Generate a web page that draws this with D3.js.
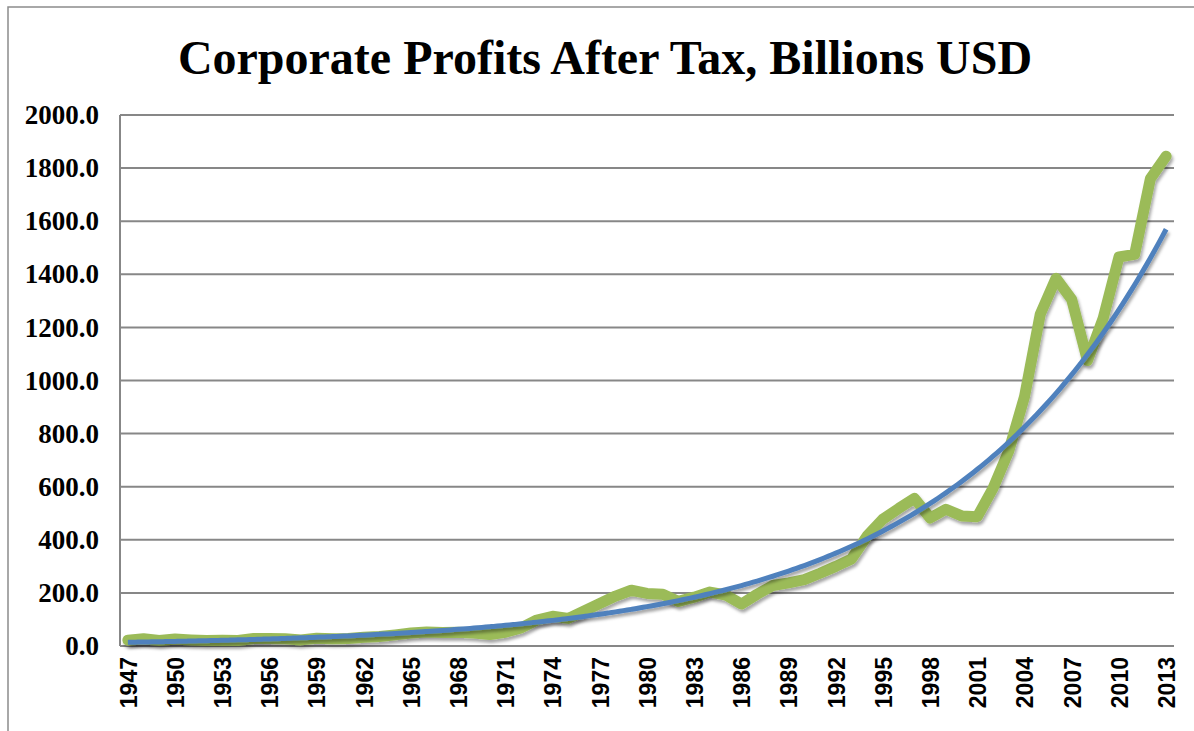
<!DOCTYPE html>
<html>
<head>
<meta charset="utf-8">
<script src="https://cdn.jsdelivr.net/npm/d3@7"></script>
<style>
  html, body { margin: 0; padding: 0; background: #fff; }
  svg { display: block; }
</style>
</head>
<body>
<svg id="chart" width="1194" height="731"></svg>
<script>
// ---- data ----
const title = "Corporate Profits After Tax, Billions USD";
const years = d3.range(1947, 2014);
const profits = [
  22, 27, 21, 26, 23, 21, 22, 21, 28, 28,      // 1947-1956
  27, 23, 29, 27, 28, 33, 36, 42, 49, 53,      // 1957-1966
  51, 52, 49, 43, 52, 68, 98, 112, 104, 132,   // 1967-1976
  160, 188, 210, 198, 195, 168, 184, 203, 192, 158, // 1977-1986
  195, 228, 238, 250, 274, 300, 328, 415, 478, 518, // 1987-1996
  556, 482, 515, 490, 487, 595, 735, 940, 1250, 1385, // 1997-2006
  1305, 1075, 1235, 1465, 1475, 1760, 1845      // 2007-2013
];
const xTickLabels = d3.range(1947, 2014, 3);
const yTicks = [0, 200, 400, 600, 800, 1000, 1200, 1400, 1600, 1800, 2000];

// ---- exponential trendline (least squares on ln(y), like a spreadsheet trendline) ----
const xs = profits.map((_, i) => i + 1);
const ls = profits.map(v => Math.log(v));
const n = xs.length;
const mx = d3.mean(xs), ml = d3.mean(ls);
const bCoef = d3.sum(xs.map((x, i) => (x - mx) * (ls[i] - ml))) / d3.sum(xs.map(x => (x - mx) * (x - mx)));
const aCoef = Math.exp(ml - bCoef * mx);
const trend = d3.range(1, n + 0.001, 0.25).map(t => ({t, v: aCoef * Math.exp(bCoef * t)}));

// ---- layout ----
const svg = d3.select("#chart");
const pLeft = 120, pRight = 1174, pTop = 115, pBottom = 646;

const x = d3.scalePoint().domain(years).range([pLeft, pRight]).padding(0.5);
const y = d3.scaleLinear().domain([0, 2000]).range([pBottom, pTop]);
const step = x.step();
const xt = t => x(years[0]) + (t - 1) * step;

// defs: drop shadow
const defs = svg.append("defs");
const f = defs.append("filter").attr("id", "shadow")
  .attr("x", "-5%").attr("y", "-5%").attr("width", "110%").attr("height", "115%");
f.append("feDropShadow").attr("dx", 1.5).attr("dy", 3).attr("stdDeviation", 1.8)
  .attr("flood-color", "#000").attr("flood-opacity", 0.35);

// background + outer border
svg.append("rect").attr("width", 1194).attr("height", 731).attr("fill", "#fff");
svg.append("rect").attr("x", 8).attr("y", 7).attr("width", 1200).attr("height", 740)
  .attr("fill", "none").attr("stroke", "#8c8c8c").attr("stroke-width", 1.5);

// title
svg.append("text").attr("x", 605).attr("y", 74).attr("text-anchor", "middle")
  .attr("font-family", "Liberation Serif, Times New Roman, serif")
  .attr("font-weight", "bold").attr("font-size", 48).attr("fill", "#000")
  .text(title);

// gridlines
svg.append("g").selectAll("line").data(yTicks.filter(d => d > 0)).join("line")
  .attr("x1", pLeft).attr("x2", pRight)
  .attr("y1", d => y(d)).attr("y2", d => y(d))
  .attr("stroke", "#878787").attr("stroke-width", 2);

// axes lines
svg.append("line").attr("x1", pLeft).attr("x2", pLeft).attr("y1", pTop).attr("y2", pBottom)
  .attr("stroke", "#878787").attr("stroke-width", 2);
svg.append("line").attr("x1", pLeft).attr("x2", pRight).attr("y1", pBottom).attr("y2", pBottom)
  .attr("stroke", "#878787").attr("stroke-width", 2);

// y axis labels
const yAxis = d3.axisLeft(y).tickValues(yTicks).tickFormat(d3.format(".1f")).tickSize(0).tickPadding(21);
const gy = svg.append("g").attr("transform", `translate(${pLeft},0)`).call(yAxis);
gy.select(".domain").remove();
gy.selectAll("text")
  .attr("font-family", "Liberation Serif, Times New Roman, serif")
  .attr("font-weight", "bold").attr("font-size", 27).attr("fill", "#000");

// x axis labels
const xAxis = d3.axisBottom(x).tickValues(xTickLabels).tickSize(0).tickPadding(0);
const gx = svg.append("g").attr("transform", `translate(0,${pBottom})`).call(xAxis);
gx.select(".domain").remove();
gx.selectAll("text")
  .attr("font-family", "Liberation Sans, Arial, sans-serif")
  .attr("font-weight", "bold").attr("font-size", 23).attr("fill", "#000")
  .attr("text-anchor", "end")
  .attr("transform", "rotate(-90)")
  .attr("x", -11).attr("y", 0).attr("dy", "0.36em");

// green data line
const line = d3.line().x((d, i) => x(years[i])).y(d => y(d));
svg.append("path").datum(profits)
  .attr("d", line)
  .attr("fill", "none").attr("stroke", "#9BBB59").attr("stroke-width", 11)
  .attr("stroke-linejoin", "round").attr("stroke-linecap", "round")
  .attr("filter", "url(#shadow)");

// blue trendline
const tline = d3.line().x(d => xt(d.t)).y(d => y(d.v)).curve(d3.curveMonotoneX);
svg.append("path").datum(trend)
  .attr("d", tline)
  .attr("fill", "none").attr("stroke", "#4F81BD").attr("stroke-width", 5)
  .attr("filter", "url(#shadow)");
</script>
</body>
</html>
